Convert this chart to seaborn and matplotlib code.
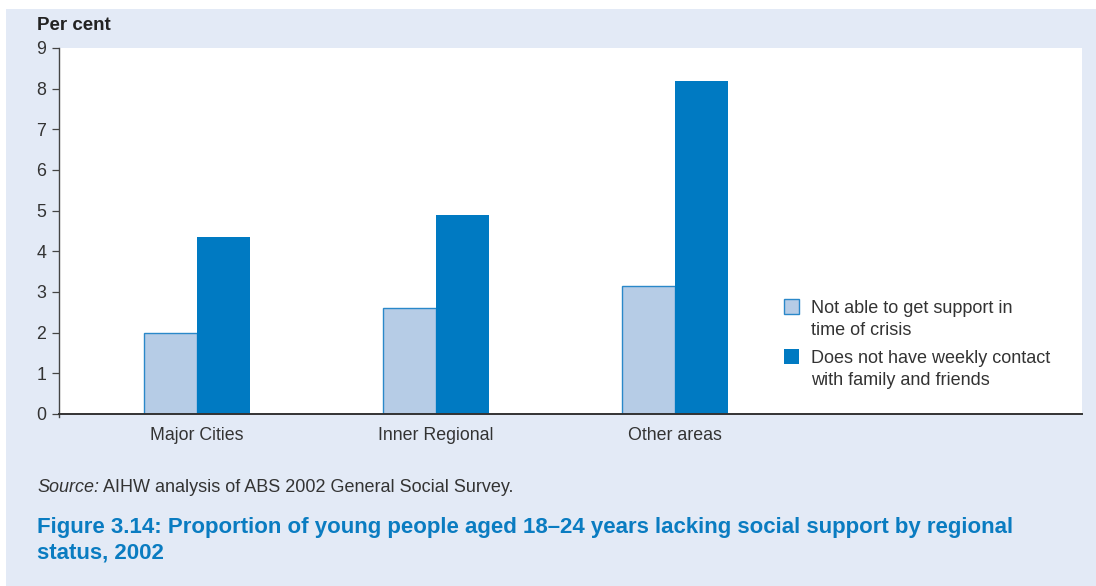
import numpy as np
import pandas as pd
import matplotlib.pyplot as plt
import seaborn as sns
from matplotlib.patches import Rectangle

# Data
regions = ['Major Cities', 'Inner Regional', 'Other areas']
no_support = [2.0, 2.6, 3.15]
no_contact = [4.35, 4.9, 8.2]
series = ['Not able to get support in\ntime of crisis',
          'Does not have weekly contact\nwith family and friends']
yticks = list(range(0, 10))

df = pd.DataFrame({
    'Region': regions * 2,
    'Series': [series[0]] * 3 + [series[1]] * 3,
    'Value': no_support + no_contact,
})

sns.set_style('white')
plt.rcParams['font.family'] = ['Liberation Sans', 'DejaVu Sans']

bg = '#E3EAF6'
light = '#B6CCE6'
dark = '#007AC2'
edge = '#2A88C9'
txt = '#333333'

W, H = 1096, 586
fig = plt.figure(figsize=(W / 100, H / 100), dpi=100, facecolor='white')
fig.patches.append(Rectangle((6 / W, 0), 1, 1 - 9 / H, transform=fig.transFigure,
                             facecolor=bg, edgecolor='none', zorder=-10))

ax = fig.add_axes([59 / W, 1 - 414 / H, (1082 - 59) / W, (414 - 48) / H])
ax.set_facecolor('white')

sns.barplot(data=df, x='Region', y='Value', hue='Series', hue_order=series,
            palette=[light, dark], saturation=1, width=0.444, ax=ax, legend=True)

# light bars get a thin blue outline
for bar in ax.containers[0]:
    bar.set_edgecolor(edge)
    bar.set_linewidth(1.0)
for bar in ax.containers[1]:
    bar.set_edgecolor('none')

ax.set_xlim(-0.577, 3.70)
ax.set_ylim(0, 9)
ax.set_yticks(yticks)
ax.set_xlabel('')
ax.set_ylabel('')

for s in ['top', 'right']:
    ax.spines[s].set_visible(False)
ax.spines['left'].set_color('#444444')
ax.spines['bottom'].set_color('#333333')
ax.spines['left'].set_linewidth(1.0)
ax.spines['bottom'].set_linewidth(1.4)
ax.spines['left'].set_bounds(-0.08, 9)

ax.tick_params(axis='y', length=5, width=0.9, color='#444444', labelsize=12.8,
               labelcolor=txt, pad=4, left=True)
ax.tick_params(axis='x', length=0, labelsize=12.8, labelcolor=txt, pad=9)

fs_leg = 13
leg = ax.legend(loc='upper left', bbox_to_anchor=((784 - 59) / 1023, (414 - 300) / 366),
                frameon=False, fontsize=fs_leg, borderpad=0, borderaxespad=0,
                handlelength=0.83, handleheight=0.83, handletextpad=0.66,
                labelspacing=0.62, labelcolor=txt)
for t in leg.get_texts():
    t.set_linespacing(1.36)
for i, h in enumerate(leg.legend_handles):
    h.set_width(10.8)
    h.set_height(10.8)
    h.set_y(h.get_y() + 9)
    if i == 0:
        h.set_edgecolor(edge)
        h.set_linewidth(1.0)
    else:
        h.set_edgecolor('none')

fig.text(37 / W, 1 - 26 / H, 'Per cent', fontsize=13.5, fontweight='bold',
         color='#222222', va='center')

src = fig.text(37 / W, 1 - 487 / H, 'Source:', fontsize=13, style='italic',
               color=txt, va='center')
fig.canvas.draw()
bb = src.get_window_extent()
fig.text((bb.x1 + 4) / W, 1 - 487 / H, 'AIHW analysis of ABS 2002 General Social Survey.',
         fontsize=13, color=txt, va='center')

fig.text(37 / W, 1 - 540 / H,
         'Figure 3.14: Proportion of young people aged 18–24 years lacking social support by regional\nstatus, 2002',
         fontsize=16, fontweight='bold', color='#0A7CC1', va='center', linespacing=1.25)

fig.savefig('out.png', dpi=100, facecolor=fig.get_facecolor())
